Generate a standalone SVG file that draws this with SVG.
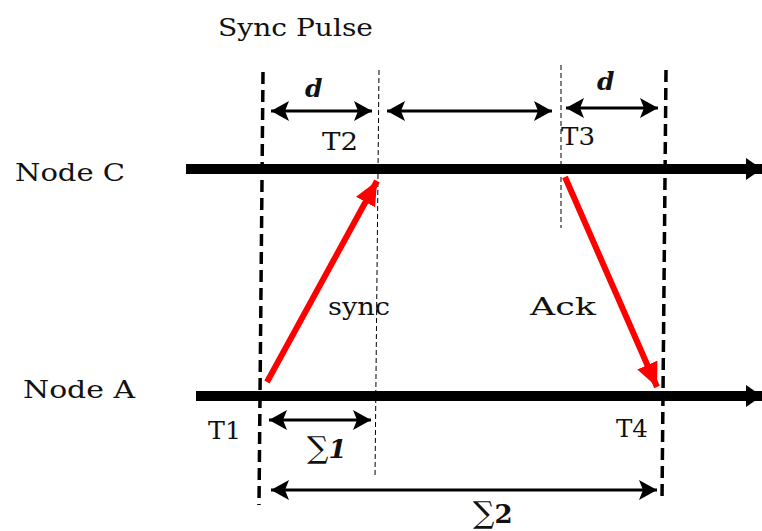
<svg xmlns="http://www.w3.org/2000/svg" width="762" height="531" viewBox="0 0 762 531">
<style>
text{font-family:"DejaVu Serif","Liberation Serif",serif;fill:#111;font-size:25px}
.it{font-style:italic;font-weight:bold}
.thick{stroke:#000;stroke-width:10;fill:none}
.dashT{stroke:#000;stroke-width:3.5;stroke-dasharray:12,6;fill:none}
.dashN{stroke:#000;stroke-width:1;stroke-dasharray:5,3;fill:none}
.dim{stroke:#000;stroke-width:3;fill:none;marker-start:url(#ah);marker-end:url(#ah)}
.red{stroke:#ff0000;stroke-width:6;fill:none;marker-end:url(#rh)}
</style>
<defs>
<marker id="ah" viewBox="0 0 18 20" refX="18" refY="10" markerWidth="18" markerHeight="20" markerUnits="userSpaceOnUse" orient="auto-start-reverse"><path d="M0,0 L18,10 L0,20 L4,10 Z" fill="#000"/></marker>
<marker id="ae" viewBox="0 0 16 22" refX="16" refY="11" markerWidth="16" markerHeight="22" markerUnits="userSpaceOnUse" orient="auto"><path d="M0,0 L16,11 L0,22 Z" fill="#000"/></marker>
<marker id="rh" viewBox="0 0 24 22" refX="24" refY="11" markerWidth="24" markerHeight="22" markerUnits="userSpaceOnUse" orient="auto"><path d="M0,0 L24,11 L0,22 Z" fill="#ff0000"/></marker>
</defs>
<text x="218" y="36" textLength="155" lengthAdjust="spacingAndGlyphs">Sync Pulse</text>
<g id="nodeC">
<text x="15" y="181" textLength="110" lengthAdjust="spacingAndGlyphs">Node C</text>
<line class="thick" x1="186" y1="169" x2="762" y2="169" marker-end="url(#ae)"/>
</g>
<g id="nodeA">
<text x="23" y="398" textLength="112" lengthAdjust="spacingAndGlyphs">Node A</text>
<line class="thick" x1="196" y1="396" x2="762" y2="396" marker-end="url(#ae)"/>
</g>
<g id="connectors">
<line class="dashT" x1="263" y1="72" x2="259" y2="505"/>
<line class="dashT" x1="666" y1="70" x2="662" y2="502"/>
<line class="dashN" x1="379" y1="70" x2="375" y2="478"/>
<line class="dashN" x1="561" y1="65" x2="561" y2="228"/>
<line class="dim" x1="271" y1="111" x2="372" y2="111"/>
<line class="dim" x1="387" y1="111" x2="552" y2="111"/>
<line class="dim" x1="566" y1="108" x2="658" y2="108"/>
<line class="dim" x1="269" y1="420" x2="371" y2="420"/>
<line class="dim" x1="271" y1="490" x2="657" y2="490"/>
<line class="red" x1="267" y1="382" x2="377" y2="181"/>
<line class="red" x1="565" y1="177" x2="657" y2="387"/>
</g>
<text class="it" x="305" y="97">d</text>
<text class="it" x="597" y="90">d</text>
<text x="322" y="150" textLength="36" lengthAdjust="spacingAndGlyphs">T2</text>
<text x="561" y="145" textLength="34" lengthAdjust="spacingAndGlyphs">T3</text>
<text x="208" y="439" textLength="33" lengthAdjust="spacingAndGlyphs">T1</text>
<text x="616" y="437" textLength="32" lengthAdjust="spacingAndGlyphs">T4</text>
<text x="328" y="315" textLength="62" lengthAdjust="spacingAndGlyphs">sync</text>
<text x="530" y="315" textLength="66" lengthAdjust="spacingAndGlyphs">Ack</text>
<text x="307" y="458"><tspan font-size="30">∑</tspan><tspan class="it" font-size="26">1</tspan></text>
<text x="473" y="523"><tspan font-size="30">∑</tspan><tspan font-weight="bold" font-size="26">2</tspan></text>
</svg>
